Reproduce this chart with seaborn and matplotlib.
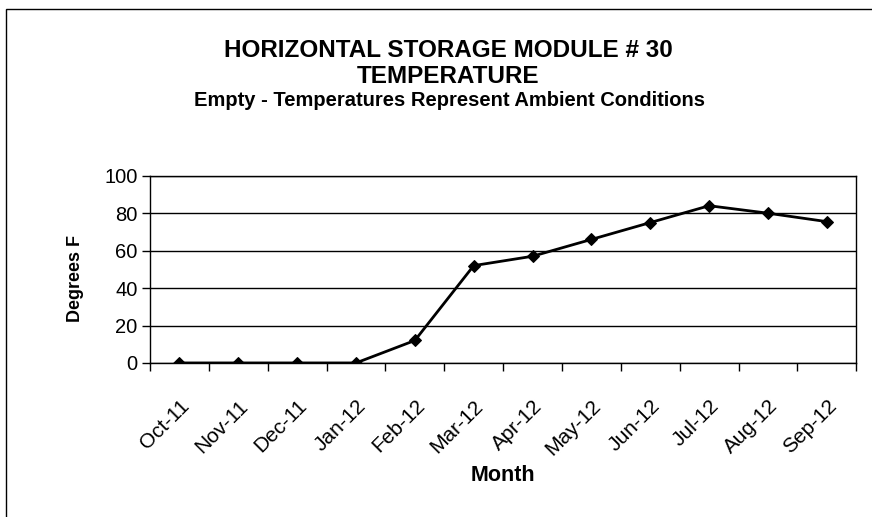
import numpy as np
import pandas as pd
import seaborn as sns
import matplotlib.pyplot as plt
from matplotlib.patches import Rectangle
from matplotlib.transforms import ScaledTranslation

months = ['Oct-11', 'Nov-11', 'Dec-11', 'Jan-12', 'Feb-12', 'Mar-12',
          'Apr-12', 'May-12', 'Jun-12', 'Jul-12', 'Aug-12', 'Sep-12']
temps = [0, 0, 0, 0, 12, 52, 57, 66, 75, 84, 80, 75.5]
y_ticks = [0, 20, 40, 60, 80, 100]

df = pd.DataFrame({'Month': months, 'Degrees F': temps})
df['pos'] = np.arange(len(months))

sns.set_style('white')
plt.rcParams['font.family'] = ['Liberation Sans', 'DejaVu Sans']
plt.rcParams['text.color'] = 'black'
plt.rcParams['axes.labelcolor'] = 'black'
plt.rcParams['xtick.color'] = 'black'
plt.rcParams['ytick.color'] = 'black'

fig = plt.figure(figsize=(8.72, 5.17), dpi=100)
ax = fig.add_axes([0.172, 0.298, 0.81, 0.362])

sns.lineplot(data=df, x='pos', y='Degrees F', ax=ax, color='black',
             linewidth=2, marker='D', markersize=6.5, markeredgecolor='black')

ax.set_xlim(-0.5, len(months) - 0.5)
ax.set_ylim(0, 100)
ax.set_yticks(y_ticks)
ax.yaxis.grid(True, color='black', linewidth=1)
ax.set_axisbelow(True)

# tick marks at category boundaries, labels at category centres
ax.set_xticks(np.arange(-0.5, len(months), 1.0))
ax.set_xticklabels([])
ax.set_xticks(df['pos'], minor=True)
ax.set_xticklabels(months, minor=True, rotation=45, ha='right',
                   rotation_mode='anchor', fontsize=15)
shift = ScaledTranslation(-0.21, 0, fig.dpi_scale_trans)
for lab in ax.get_xticklabels(minor=True):
    lab.set_transform(lab.get_transform() + shift)
ax.tick_params(axis='x', which='major', direction='out', length=6,
               width=1, bottom=True)
ax.tick_params(axis='x', which='minor', length=0, pad=24)
ax.tick_params(axis='y', direction='out', length=6, width=1,
               left=True, labelsize=14.5, pad=3)

for s in ax.spines.values():
    s.set_visible(True)
    s.set_color('black')
    s.set_linewidth(1)

ax.set_xlabel('Month', fontsize=15.5, fontweight='bold', va='center')
ax.xaxis.set_label_coords(0.5, -0.6)
ax.set_ylabel('Degrees F', fontsize=13, fontweight='bold', va='center')
ax.yaxis.set_label_coords(-0.105, 0.45)

fig.text(0.514, 0.889, 'HORIZONTAL STORAGE MODULE # 30', ha='center',
         va='baseline', fontsize=17.5, fontweight='bold')
fig.text(0.514, 0.839, 'TEMPERATURE', ha='center', va='baseline',
         fontsize=17.5, fontweight='bold')
fig.text(0.516, 0.795, 'Empty - Temperatures Represent Ambient Conditions',
         ha='center', va='baseline', fontsize=14.5, fontweight='bold')

fig.patches.append(Rectangle((0.007, -0.01), 1.0, 0.993,
                             transform=fig.transFigure, fill=False,
                             edgecolor='black', linewidth=1))

fig.savefig('out.png', dpi=100)
